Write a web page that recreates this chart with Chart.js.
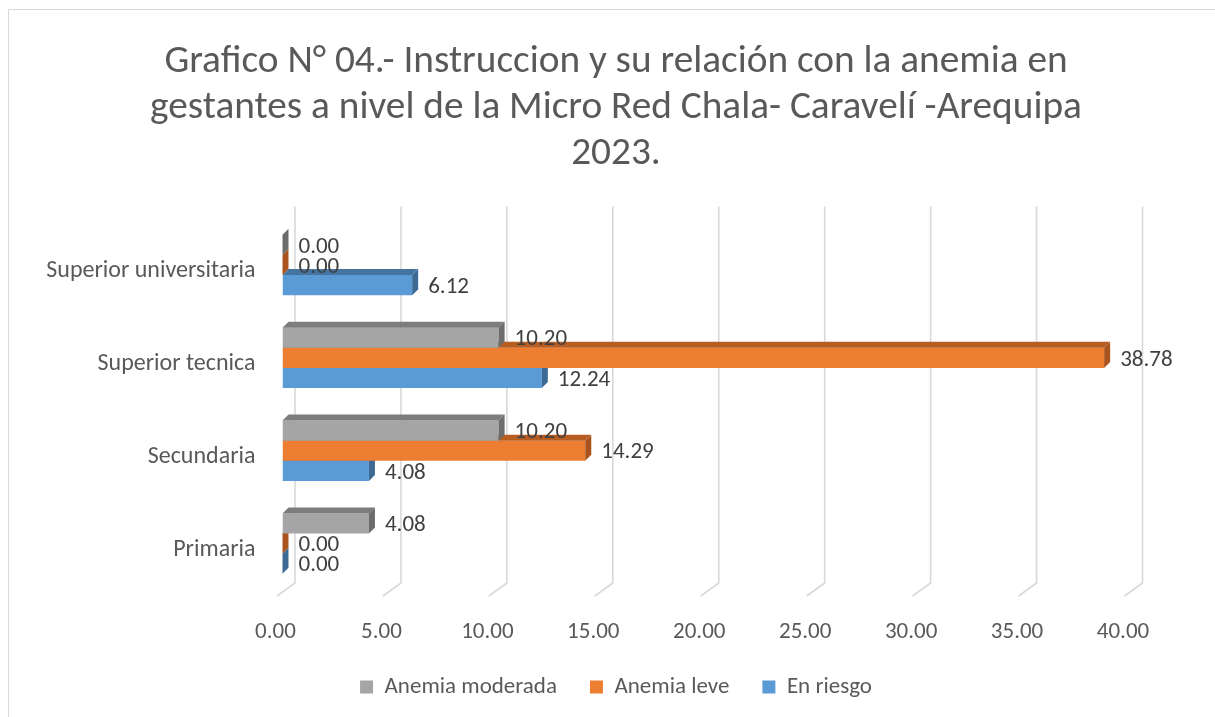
<!DOCTYPE html>
<html lang="es">
<head>
<meta charset="UTF-8">
<title>Grafico N° 04</title>
<script src="https://cdn.jsdelivr.net/npm/chart.js@4.4.1/dist/chart.umd.min.js"></script>
<style>
    body { margin: 0; background: #fff; }
    #marco {
        position: absolute; left: 8px; top: 9px;
        width: 1400px; height: 900px;
        border: 1.5px solid #d9d9d9;
    }
    #contenedor { position: absolute; left: 0; top: 0; width: 1215px; height: 717px; }
</style>
</head>
<body>
<div id="marco"></div>
<div id="contenedor"><canvas id="graficoInstruccion"></canvas></div>
<script>
// Datos del grafico
const categorias = ['Superior universitaria', 'Superior tecnica', 'Secundaria', 'Primaria'];
const anemiaModerada = [0.00, 10.20, 10.20, 4.08];
const anemiaLeve = [0.00, 38.78, 14.29, 0.00];
const enRiesgo = [6.12, 12.24, 4.08, 0.00];
const ejeMin = 0;
const ejeMax = 40;
const ejePaso = 5;

const fuente = "Carlito, Calibri, Lato, sans-serif";
const tamLetra = 23;

// colores: frente, cara superior, cara lateral
const colores = [
    { frente: '#a5a5a5', arriba: '#7d7d7d', lado: '#6c6c6c' },
    { frente: '#ed7d31', arriba: '#b85d22', lado: '#a9541e' },
    { frente: '#5b9bd5', arriba: '#4674a0', lado: '#3d6a94' }
];
const prof = 6; // profundidad del efecto 3D

// Plugin para el efecto 3D, las lineas de fondo y las etiquetas
const efecto3D = {
    id: 'efecto3D',
    beforeDatasetsDraw(chart) {
        const ctx = chart.ctx;
        const x = chart.scales.x;
        const area = chart.chartArea;
        ctx.save();
        ctx.strokeStyle = '#d9d9d9';
        ctx.lineWidth = 1.6;
        x.ticks.forEach(t => {
            const px = x.getPixelForValue(t.value) + 12.5;
            ctx.beginPath();
            ctx.moveTo(px, area.top - 12);
            ctx.lineTo(px, area.bottom - 7);
            ctx.lineTo(px - 18, area.bottom + 6);
            ctx.stroke();
        });
        ctx.restore();
    },
    afterDatasetDraw(chart, args) {
        const ctx = chart.ctx;
        const c = colores[args.index];
        ctx.save();
        args.meta.data.forEach(bar => {
            const p = bar.getProps(['x', 'y', 'base', 'height'], true);
            const arriba = p.y - p.height / 2;
            const abajo = p.y + p.height / 2;
            // cara superior
            ctx.fillStyle = c.arriba;
            ctx.beginPath();
            ctx.moveTo(p.base, arriba);
            ctx.lineTo(p.base + prof, arriba - prof);
            ctx.lineTo(p.x + prof, arriba - prof);
            ctx.lineTo(p.x, arriba);
            ctx.closePath();
            ctx.fill();
            // cara lateral
            ctx.fillStyle = c.lado;
            ctx.beginPath();
            ctx.moveTo(p.x, arriba);
            ctx.lineTo(p.x + prof, arriba - prof);
            ctx.lineTo(p.x + prof, abajo - prof);
            ctx.lineTo(p.x, abajo);
            ctx.closePath();
            ctx.fill();
        });
        ctx.restore();
    },
    afterDatasetsDraw(chart) {
        const ctx = chart.ctx;
        ctx.save();
        ctx.fillStyle = '#404040';
        ctx.font = tamLetra + 'px ' + fuente;
        ctx.textAlign = 'left';
        ctx.textBaseline = 'middle';
        chart.data.datasets.forEach((ds, i) => {
            chart.getDatasetMeta(i).data.forEach((bar, j) => {
                const p = bar.getProps(['x', 'y'], true);
                ctx.fillText(ds.data[j].toFixed(2), p.x + 16, p.y + 2);
            });
        });
        ctx.restore();
    }
};

const ctx = document.getElementById('graficoInstruccion').getContext('2d');
const grafico = new Chart(ctx, {
    type: 'bar',
    data: {
        labels: categorias,
        datasets: [
            { label: 'Anemia moderada', data: anemiaModerada, backgroundColor: colores[0].frente, borderWidth: 0 },
            { label: 'Anemia leve', data: anemiaLeve, backgroundColor: colores[1].frente, borderWidth: 0 },
            { label: 'En riesgo', data: enRiesgo, backgroundColor: colores[2].frente, borderWidth: 0 }
        ]
    },
    options: {
        indexAxis: 'y',
        responsive: true,
        maintainAspectRatio: false,
        animation: false,
        categoryPercentage: 0.65,
        barPercentage: 1.0,
        layout: { padding: { left: 30, right: 13, top: 0, bottom: 8.5 } },
        plugins: {
            title: {
                display: true,
                text: [
                    'Grafico N° 04.- Instruccion y su relación con la anemia en',
                    'gestantes a nivel de la Micro Red Chala- Caravelí -Arequipa',
                    '2023.'
                ],
                color: '#595959',
                font: { family: fuente, size: 39.3, weight: 'normal', lineHeight: 1.17 },
                padding: { top: 39, bottom: 41.6 }
            },
            legend: {
                position: 'bottom',
                labels: {
                    color: '#595959',
                    font: { family: fuente, size: tamLetra, lineHeight: 1 },
                    boxWidth: 13,
                    boxHeight: 13,
                    padding: 33
                }
            },
            tooltip: { enabled: false }
        },
        scales: {
            x: {
                min: ejeMin,
                max: ejeMax,
                afterFit: escala => { escala.height = 52.5; },
                ticks: {
                    stepSize: ejePaso,
                    color: '#595959',
                    font: { family: fuente, size: tamLetra, lineHeight: 1 },
                    padding: 30.5,
                    labelOffset: -7,
                    callback: v => Number(v).toFixed(2)
                },
                grid: { display: false, drawTicks: false },
                border: { display: false }
            },
            y: {
                afterFit: escala => { escala.width = 252.5; },
                ticks: {
                    color: '#595959',
                    font: { family: fuente, size: 24 },
                    padding: 27,
                    labelOffset: 6
                },
                grid: { display: false, drawTicks: false },
                border: { display: false }
            },
            // eje vacio a la derecha, solo para centrar titulo y leyenda
            derecha: {
                type: 'category',
                position: 'right',
                afterFit: escala => { escala.width = 72; },
                ticks: { display: false },
                grid: { display: false, drawTicks: false },
                border: { display: false }
            }
        }
    },
    plugins: [efecto3D]
});
</script>
</body>
</html>
